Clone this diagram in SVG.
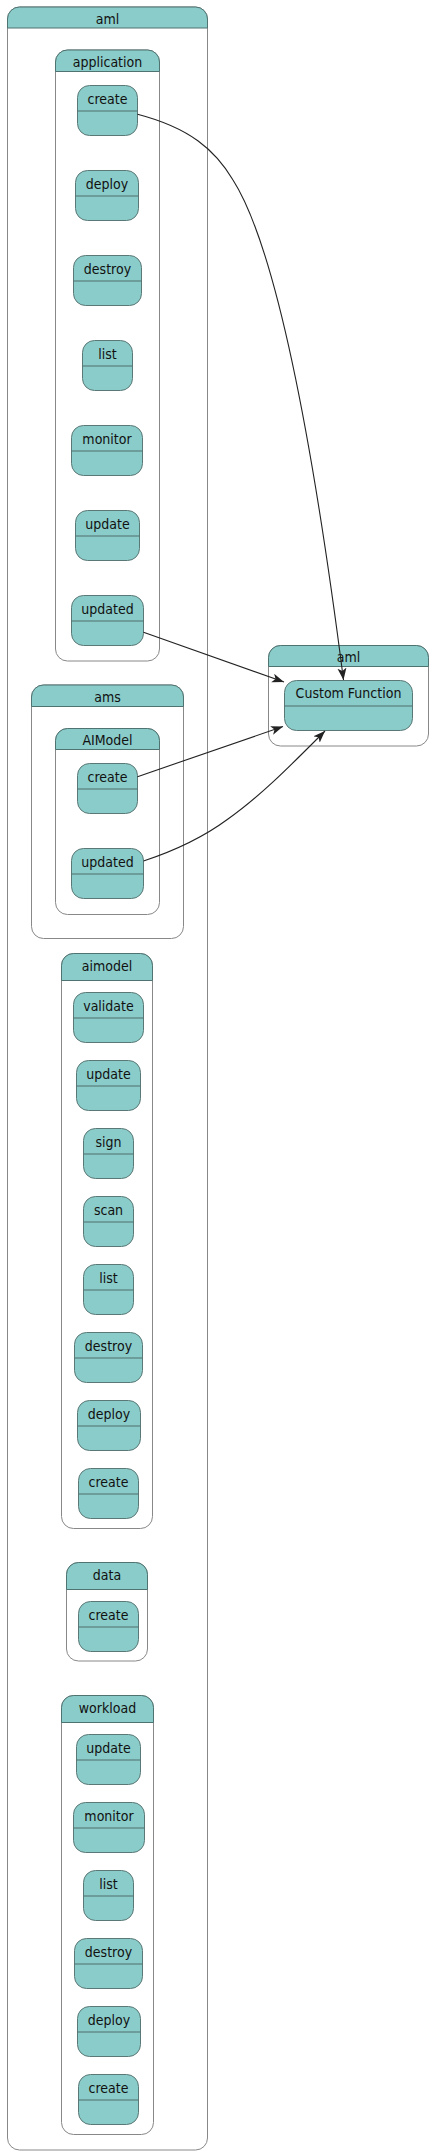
<svg xmlns="http://www.w3.org/2000/svg" width="434" height="2155" viewBox="0 0 434 2155">
<style>
text{font-family:"DejaVu Sans Condensed","DejaVu Sans","Liberation Sans",sans-serif;font-stretch:condensed;font-size:14px;fill:#111;text-anchor:middle}
.cb{fill:#fff;stroke:#888;stroke-width:1}
.ch{fill:#8accc9;stroke:#4e7371;stroke-width:1}
.n{fill:#8accc9;stroke:#5a7876;stroke-width:1}
.d{stroke:#4e6e6c;stroke-width:1}
.e{fill:none;stroke:#222;stroke-width:1.1}
</style>
<defs>
<marker id="ah" markerUnits="userSpaceOnUse" markerWidth="14" markerHeight="12" refX="12" refY="4.5" orient="auto">
<path d="M0,0 L12,4.5 L0,9 L3,4.5 z" fill="#222"/>
</marker>
</defs>
<rect width="434" height="2155" fill="#fff"/>

<!-- clusters -->
<g id="cluster-aml">
<rect class="cb" x="7.5" y="7" width="200" height="2143" rx="12"/>
<path class="ch" d="M7.5,28 V19 A12,12 0 0 1 19.5,7 H195.5 A12,12 0 0 1 207.5,19 V28 Z"/>
<text x="107.5" y="24">aml</text>
</g>
<g id="cluster-application">
<rect class="cb" x="55.5" y="50" width="104" height="611" rx="12"/>
<path class="ch" d="M55.5,71.5 V62 A12,12 0 0 1 67.5,50 H147.5 A12,12 0 0 1 159.5,62 V71.5 Z"/>
<text x="107.5" y="67">application</text>
</g>
<g id="cluster-ams">
<rect class="cb" x="31.5" y="685" width="152" height="253.5" rx="12"/>
<path class="ch" d="M31.5,706.5 V697 A12,12 0 0 1 43.5,685 H171.5 A12,12 0 0 1 183.5,697 V706.5 Z"/>
<text x="107.5" y="702">ams</text>
</g>
<g id="cluster-AIModel">
<rect class="cb" x="55.5" y="728.5" width="104" height="186" rx="12"/>
<path class="ch" d="M55.5,749.5 V740.5 A12,12 0 0 1 67.5,728.5 H147.5 A12,12 0 0 1 159.5,740.5 V749.5 Z"/>
<text x="107.5" y="745">AIModel</text>
</g>
<g id="cluster-aimodel">
<rect class="cb" x="61.5" y="953.5" width="91" height="575" rx="12"/>
<path class="ch" d="M61.5,980.5 V965.5 A12,12 0 0 1 73.5,953.5 H140.5 A12,12 0 0 1 152.5,965.5 V980.5 Z"/>
<text x="107" y="971">aimodel</text>
</g>
<g id="cluster-data">
<rect class="cb" x="66.5" y="1562.5" width="81" height="98.5" rx="12"/>
<path class="ch" d="M66.5,1589.5 V1574.5 A12,12 0 0 1 78.5,1562.5 H135.5 A12,12 0 0 1 147.5,1574.5 V1589.5 Z"/>
<text x="107" y="1580">data</text>
</g>
<g id="cluster-workload">
<rect class="cb" x="61.5" y="1695.5" width="92" height="439" rx="12"/>
<path class="ch" d="M61.5,1722.5 V1707.5 A12,12 0 0 1 73.5,1695.5 H141.5 A12,12 0 0 1 153.5,1707.5 V1722.5 Z"/>
<text x="107.5" y="1713">workload</text>
</g>
<g id="cluster-aml-target">
<rect class="cb" x="268.5" y="645.5" width="160" height="100.5" rx="12"/>
<path class="ch" d="M268.5,666.5 V657.5 A12,12 0 0 1 280.5,645.5 H416.5 A12,12 0 0 1 428.5,657.5 V666.5 Z"/>
<text x="348.5" y="662">aml</text>
</g>

<!-- nodes: application -->
<g id="app-create"><rect class="n" x="77.5" y="85.5" width="60" height="50" rx="12"/><line class="d" x1="77.5" y1="111" x2="137.5" y2="111"/><text x="107.5" y="103.5">create</text></g>
<g id="app-deploy"><rect class="n" x="75.5" y="170.5" width="63" height="50" rx="12"/><line class="d" x1="75.5" y1="196" x2="138.5" y2="196"/><text x="107" y="188.5">deploy</text></g>
<g id="app-destroy"><rect class="n" x="73.5" y="255.5" width="68" height="50" rx="12"/><line class="d" x1="73.5" y1="281" x2="141.5" y2="281"/><text x="107.5" y="273.5">destroy</text></g>
<g id="app-list"><rect class="n" x="82.5" y="340.5" width="50" height="50" rx="12"/><line class="d" x1="82.5" y1="366" x2="132.5" y2="366"/><text x="107.5" y="358.5">list</text></g>
<g id="app-monitor"><rect class="n" x="71.5" y="425.5" width="71" height="50" rx="12"/><line class="d" x1="71.5" y1="451" x2="142.5" y2="451"/><text x="107" y="443.5">monitor</text></g>
<g id="app-update"><rect class="n" x="75.5" y="510.5" width="64" height="50" rx="12"/><line class="d" x1="75.5" y1="536" x2="139.5" y2="536"/><text x="107.5" y="528.5">update</text></g>
<g id="app-updated"><rect class="n" x="71.5" y="595.5" width="72" height="50" rx="12"/><line class="d" x1="71.5" y1="621" x2="143.5" y2="621"/><text x="107.5" y="613.5">updated</text></g>

<!-- nodes: ams / AIModel -->
<g id="ams-create"><rect class="n" x="77.5" y="763.5" width="60" height="50" rx="12"/><line class="d" x1="77.5" y1="789" x2="137.5" y2="789"/><text x="107.5" y="781.5">create</text></g>
<g id="ams-updated"><rect class="n" x="71.5" y="848.5" width="72" height="50" rx="12"/><line class="d" x1="71.5" y1="874" x2="143.5" y2="874"/><text x="107.5" y="866.5">updated</text></g>

<!-- nodes: aimodel -->
<g id="aim-validate"><rect class="n" x="73.5" y="992.5" width="70" height="50" rx="12"/><line class="d" x1="73.5" y1="1018" x2="143.5" y2="1018"/><text x="108.5" y="1010.5">validate</text></g>
<g id="aim-update"><rect class="n" x="76.5" y="1060.5" width="64" height="50" rx="12"/><line class="d" x1="76.5" y1="1086" x2="140.5" y2="1086"/><text x="108.5" y="1078.5">update</text></g>
<g id="aim-sign"><rect class="n" x="83.5" y="1128.5" width="50" height="50" rx="12"/><line class="d" x1="83.5" y1="1154" x2="133.5" y2="1154"/><text x="108.5" y="1146.5">sign</text></g>
<g id="aim-scan"><rect class="n" x="83.5" y="1196.5" width="50" height="50" rx="12"/><line class="d" x1="83.5" y1="1222" x2="133.5" y2="1222"/><text x="108.5" y="1214.5">scan</text></g>
<g id="aim-list"><rect class="n" x="83.5" y="1264.5" width="50" height="50" rx="12"/><line class="d" x1="83.5" y1="1290" x2="133.5" y2="1290"/><text x="108.5" y="1282.5">list</text></g>
<g id="aim-destroy"><rect class="n" x="74.5" y="1332.5" width="68" height="50" rx="12"/><line class="d" x1="74.5" y1="1358" x2="142.5" y2="1358"/><text x="108.5" y="1350.5">destroy</text></g>
<g id="aim-deploy"><rect class="n" x="77.5" y="1400.5" width="63" height="50" rx="12"/><line class="d" x1="77.5" y1="1426" x2="140.5" y2="1426"/><text x="109" y="1418.5">deploy</text></g>
<g id="aim-create"><rect class="n" x="78.5" y="1468.5" width="60" height="50" rx="12"/><line class="d" x1="78.5" y1="1494" x2="138.5" y2="1494"/><text x="108.5" y="1486.5">create</text></g>

<!-- nodes: data -->
<g id="data-create"><rect class="n" x="78.5" y="1601.5" width="60" height="50" rx="12"/><line class="d" x1="78.5" y1="1627" x2="138.5" y2="1627"/><text x="108.5" y="1619.5">create</text></g>

<!-- nodes: workload -->
<g id="wl-update"><rect class="n" x="76.5" y="1734.5" width="64" height="50" rx="12"/><line class="d" x1="76.5" y1="1760" x2="140.5" y2="1760"/><text x="108.5" y="1752.5">update</text></g>
<g id="wl-monitor"><rect class="n" x="73.5" y="1802.5" width="71" height="50" rx="12"/><line class="d" x1="73.5" y1="1828" x2="144.5" y2="1828"/><text x="109" y="1820.5">monitor</text></g>
<g id="wl-list"><rect class="n" x="83.5" y="1870.5" width="50" height="50" rx="12"/><line class="d" x1="83.5" y1="1896" x2="133.5" y2="1896"/><text x="108.5" y="1888.5">list</text></g>
<g id="wl-destroy"><rect class="n" x="74.5" y="1938.5" width="68" height="50" rx="12"/><line class="d" x1="74.5" y1="1964" x2="142.5" y2="1964"/><text x="108.5" y="1956.5">destroy</text></g>
<g id="wl-deploy"><rect class="n" x="77.5" y="2006.5" width="63" height="50" rx="12"/><line class="d" x1="77.5" y1="2032" x2="140.5" y2="2032"/><text x="109" y="2024.5">deploy</text></g>
<g id="wl-create"><rect class="n" x="78.5" y="2074.5" width="60" height="50" rx="12"/><line class="d" x1="78.5" y1="2100" x2="138.5" y2="2100"/><text x="108.5" y="2092.5">create</text></g>

<!-- target node -->
<g id="custom-function"><rect class="n" x="284.5" y="680.5" width="128" height="50" rx="12"/><line class="d" x1="284.5" y1="706" x2="412.5" y2="706"/><text x="348.5" y="698">Custom Function</text></g>

<!-- connectors -->
<g id="connectors">
<path class="e" marker-end="url(#ah)" d="M137.5,114.3 C190,128 215,150 233,180 C268,235 305,380 343.5,680"/>
<path class="e" marker-end="url(#ah)" d="M143.5,632.3 L284,682"/>
<path class="e" marker-end="url(#ah)" d="M137.5,776.7 L283,726.5"/>
<path class="e" marker-end="url(#ah)" d="M143.5,861 C180,849 205,836 228,819 C262,795 294,762 325,731"/>
</g>
</svg>
